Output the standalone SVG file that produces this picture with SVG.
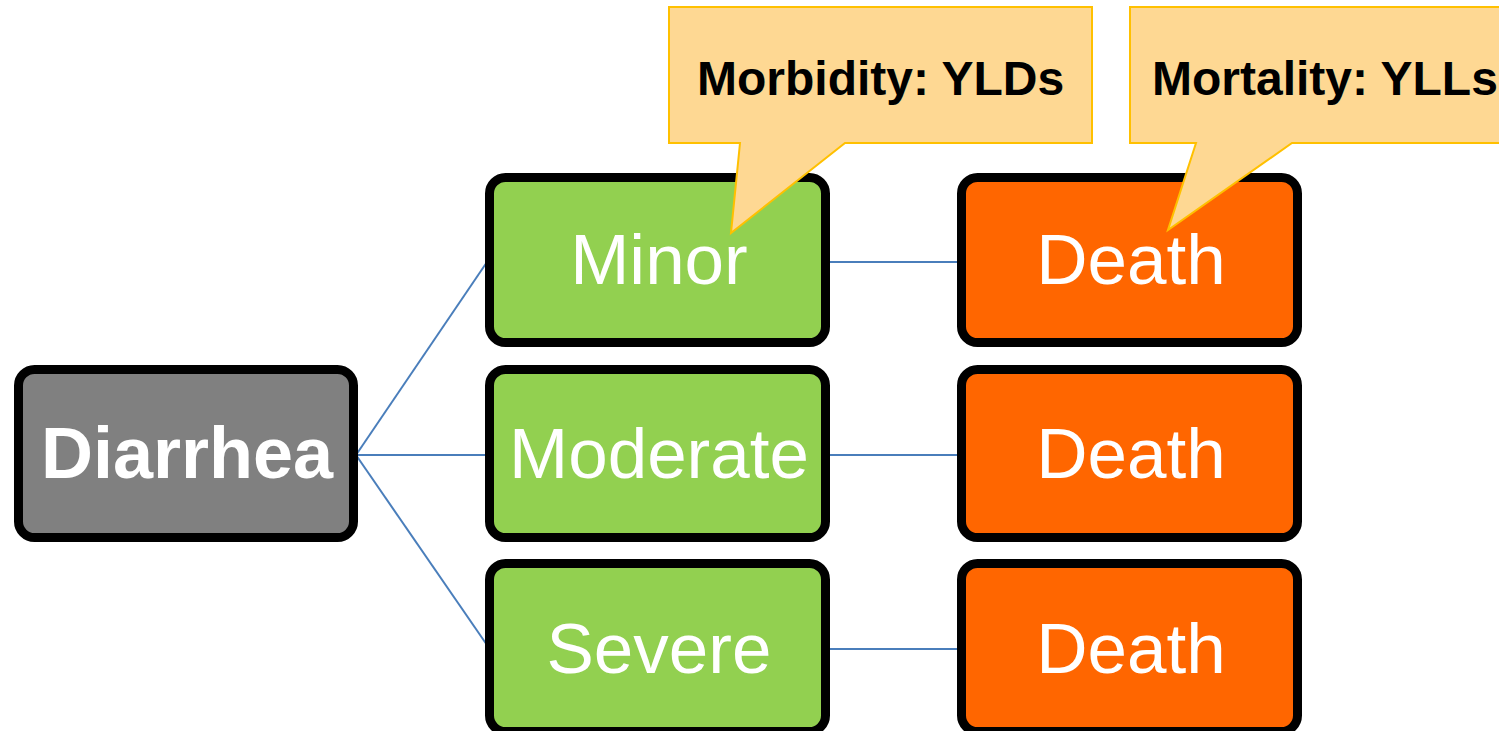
<svg xmlns="http://www.w3.org/2000/svg" width="1499" height="731" viewBox="0 0 1499 731">
<style>
.box{stroke:#000;stroke-width:9}
.grey{fill:#808080}
.green{fill:#92D050}
.orange{fill:#FF6600}
.lbl{font-family:"Liberation Sans",Arial,sans-serif;font-size:71px;fill:#fff;text-anchor:middle}
.bold{font-weight:bold;font-size:72px}
.call{fill:#FED893;stroke:#FFC000;stroke-width:2}
.ctxt{font-family:"Liberation Sans",Arial,sans-serif;font-size:48px;font-weight:bold;fill:#000}
.conn{stroke:#4A7EBB;stroke-width:2;fill:none}
</style>
<rect width="1499" height="731" fill="#fff"/>
<g id="connectors">
<line class="conn" x1="356" y1="455" x2="487" y2="262"/>
<line class="conn" x1="356" y1="455" x2="487" y2="455"/>
<line class="conn" x1="356" y1="455" x2="487" y2="645"/>
<line class="conn" x1="829" y1="262" x2="959" y2="262"/>
<line class="conn" x1="829" y1="455" x2="959" y2="455"/>
<line class="conn" x1="829" y1="649" x2="959" y2="649"/>
</g>
<g id="diarrhea">
<rect class="box grey" x="18.5" y="369.5" width="335" height="168" rx="16"/>
<text class="lbl bold" x="187" y="478">Diarrhea</text>
</g>
<g id="minor">
<rect class="box green" x="489.5" y="177.5" width="336" height="165" rx="16"/>
<text class="lbl" x="659" y="284">Minor</text>
</g>
<g id="moderate">
<rect class="box green" x="489.5" y="369.5" width="336" height="168" rx="16"/>
<text class="lbl" x="659" y="478">Moderate</text>
</g>
<g id="severe">
<rect class="box green" x="489.5" y="563.5" width="336" height="168" rx="16"/>
<text class="lbl" x="659" y="673">Severe</text>
</g>
<g id="death1">
<rect class="box orange" x="961.5" y="177.5" width="336" height="165" rx="16"/>
<text class="lbl" x="1131" y="284">Death</text>
</g>
<g id="death2">
<rect class="box orange" x="961.5" y="369.5" width="336" height="168" rx="16"/>
<text class="lbl" x="1131" y="478">Death</text>
</g>
<g id="death3">
<rect class="box orange" x="961.5" y="563.5" width="336" height="168" rx="16"/>
<text class="lbl" x="1131" y="673">Death</text>
</g>
<g id="morbidity">
<path class="call" d="M669,7 H1092 V143 H845 L731,233 L740,143 H669 Z"/>
<text class="ctxt" x="697" y="95">Morbidity: YLDs</text>
</g>
<g id="mortality">
<path class="call" d="M1130,7 H1502 V143 H1292 L1168,230 L1196,143 H1130 Z"/>
<text class="ctxt" x="1152" y="95">Mortality: YLLs</text>
</g>
</svg>
